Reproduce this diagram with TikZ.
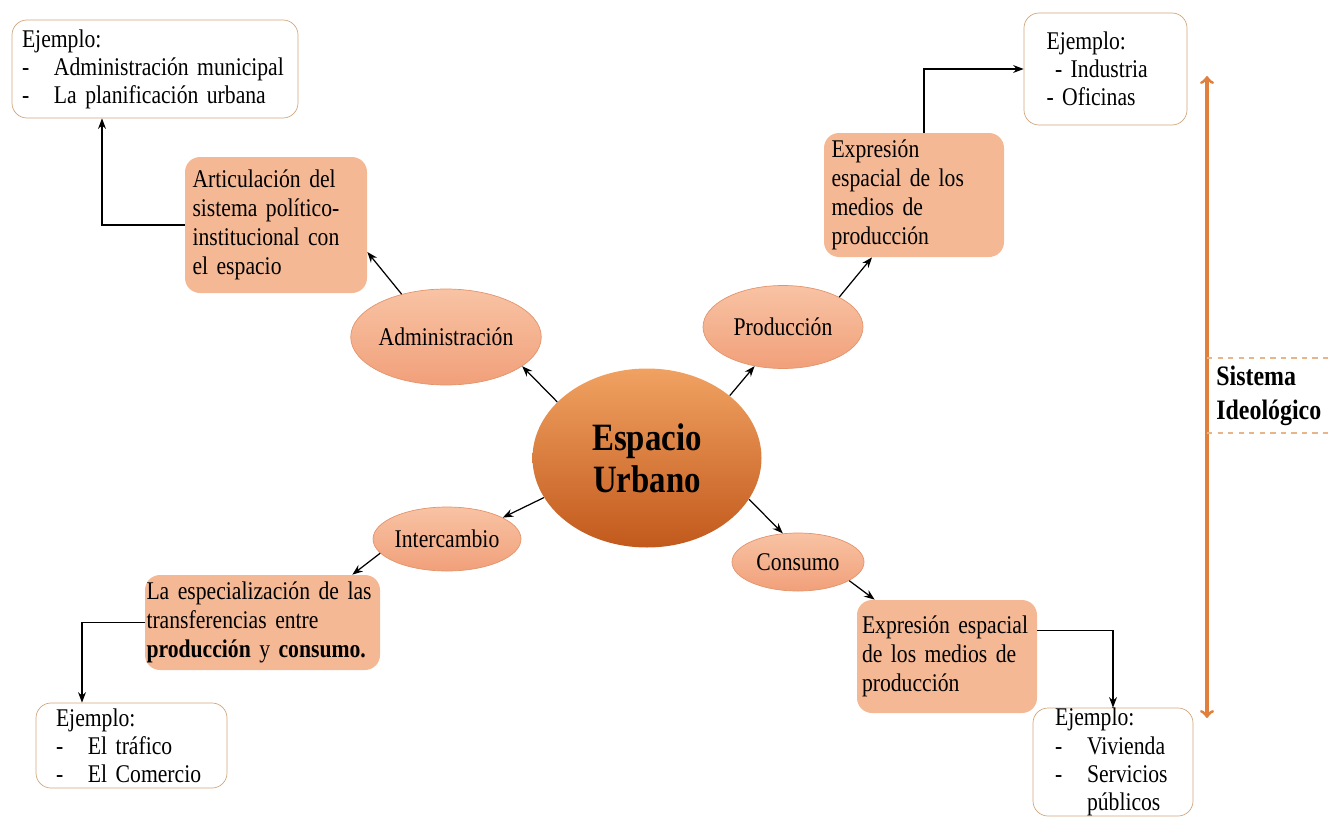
\documentclass[tikz,border=0pt]{standalone}
\usepackage{fontspec}
\setmainfont{Liberation Serif}[FakeStretch=0.85]
\usetikzlibrary{arrows,arrows.meta,shapes}
\definecolor{cajacolor}{HTML}{F5B895}
\definecolor{bordecolor}{HTML}{D2A67C}
\definecolor{elipsearriba}{HTML}{F8C3A4}
\definecolor{elipseabajo}{HTML}{F1A07A}
\definecolor{elipseborde}{HTML}{E3946B}
\definecolor{centroarriba}{HTML}{F0A262}
\definecolor{centromedio}{HTML}{E67E35}
\definecolor{centroabajo}{HTML}{C2591C}
\definecolor{ideocolor}{HTML}{E0803C}
\definecolor{rayacolor}{HTML}{E8B48A}
\newcommand{\ejguion}{\makebox[0.64cm][l]{-}}
\tikzset{
	caja/.style={
		rectangle,
		rounded corners=0.3cm,
		fill=cajacolor,
		inner xsep=0.15cm,
		align=left,
		font=\fontsize{14.5}{16.5}\selectfont
	},
	ejemplo/.style={
		rectangle,
		rounded corners=0.3cm,
		draw=bordecolor,
		fill=white,
		align=left,
		inner ysep=0pt,
		font=\fontsize{14.5}{16}\selectfont
	},
	elipse/.style={
		ellipse,
		draw=elipseborde,
		top color=elipsearriba,
		bottom color=elipseabajo,
		inner sep=0pt,
		font=\fontsize{14.5}{16.5}\selectfont
	},
	centro/.style={
		ellipse,
		top color=centroarriba,
		middle color=centromedio,
		bottom color=centroabajo,
		inner sep=0pt,
		align=center,
		font=\bfseries\fontsize{22}{24}\selectfont
	},
	flecha/.style={
		draw=black,
		line width=0.7pt,
		->,
		>={Stealth[length=6pt,width=4.5pt]}
	},
	ideo/.style={
		draw=ideocolor,
		line width=1.8pt,
		<->,
		>=to
	},
	raya/.style={
		draw=rayacolor,
		dashed,
		line width=0.7pt
	},
}

\begin{document}
\begin{tikzpicture}
		\useasboundingbox (0,0) rectangle (26.68,-16.34);
		\node (espacio) [centro,minimum width=4.58cm,minimum height=3.58cm] at (12.94,-9.16) {Espacio\\Urbano};
		\node (adm) [elipse,minimum width=3.62cm,minimum height=1.92cm] at (8.92,-6.74) {Administración};
		\node (prod) [elipse,minimum width=3.20cm,minimum height=1.66cm] at (15.66,-6.54) {Producción};
		\node (inter) [elipse,minimum width=2.84cm,minimum height=1.28cm] at (8.94,-10.78) {Intercambio};
		\node (cons) [elipse,minimum width=2.64cm,minimum height=1.16cm] at (15.96,-11.24) {Consumo};
		
		\node (articulacion) [caja,text width=3.34cm,minimum height=2.72cm] at (5.52,-4.50) {Articulación del\\ sistema político-\\ institucional con\\ el espacio};
		\node (expprod) [caja,text width=3.30cm,minimum height=2.48cm] at (18.28,-3.90) {Expresión\\ espacial de los\\ medios de\\ producción};
		\node (especial) [caja,inner xsep=0.03cm,text width=4.64cm,minimum height=1.90cm] at (5.25,-12.45) {La especialización de las\\ transferencias entre\\ \textbf{producción} y \textbf{consumo.}};
		\node (expcons) [caja,inner xsep=0.1cm,text width=3.40cm,minimum height=2.26cm] at (18.94,-13.13) {Expresión espacial\\ de los medios de\\ producción};
		
		\node (ex1) [ejemplo,inner xsep=0.2cm,text width=5.32cm,minimum height=1.96cm] at (3.10,-1.38) {Ejemplo:\\ \ejguion Administración municipal\\ \ejguion La planificación urbana};
		\node (ex2) [ejemplo,inner xsep=0.45cm,text width=2.36cm,minimum height=2.24cm] at (22.11,-1.38) {Ejemplo:\\ \ - Industria\\ - Oficinas};
		\node (ex3) [ejemplo,inner xsep=0.4cm,text width=3.02cm,minimum height=1.70cm] at (2.63,-14.91) {Ejemplo:\\ \ejguion El tráfico\\ \ejguion El Comercio};
		\node (ex4) [ejemplo,inner xsep=0.44cm,text width=2.32cm,minimum height=2.16cm] at (22.26,-15.24) {Ejemplo:\\ \ejguion Vivienda\\ \ejguion Servicios\\ \hspace*{0.64cm}públicos};
		
		\node (ideologico) [anchor=west,inner sep=0pt,align=left,font=\bfseries\fontsize{16}{19.4}\selectfont] at (24.32,-7.91) {Sistema\\Ideológico};
		\coordinate (ideoarriba) at (24.14,-1.52);
		\coordinate (ideoabajo) at (24.14,-14.36);
		\coordinate (rayaA) at (24.14,-7.16);
		\coordinate (rayaB) at (24.14,-8.66);
		
		\draw [flecha] (articulacion.west) -| ([xshift=-1.06cm]ex1.south);
		\draw [flecha] (adm.136) -- ([yshift=-0.54cm]articulacion.east);
		\draw [flecha] (espacio.148) -- (adm.-21);
		\draw [flecha] (espacio.37) -- (prod.234);
		\draw [flecha] (prod.28) -- ([xshift=-0.84cm]expprod.south);
		\draw [flecha] ([xshift=0.2cm]expprod.north) |- (ex2.west);
		\draw [flecha] (espacio.201) -- (inter.21);
		\draw [flecha] (inter.192) -- ([xshift=-0.56cm]especial.north east);
		\draw [flecha] (especial.west) -| ([xshift=-0.99cm]ex3.north);
		\draw [flecha] (espacio.-22) -- (cons.118);
		\draw [flecha] (cons.-20) -- ([xshift=0.36cm]expcons.north west);
		\draw [flecha] ([yshift=0.52cm]expcons.east) -| (ex4.north);
		
		\draw [ideo] (ideoarriba) -- (ideoabajo);
		\draw [raya] (rayaA) -- (rayaA -| 26.68,0);
		\draw [raya] (rayaB) -- (rayaB -| 26.68,0);
		
\end{tikzpicture}
\end{document}
